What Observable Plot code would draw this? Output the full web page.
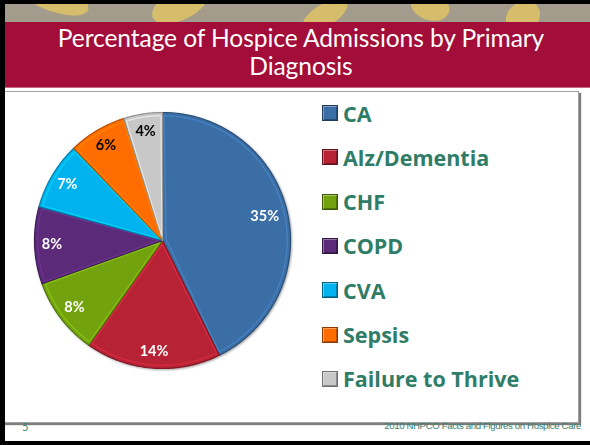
<!DOCTYPE html>
<html><head><meta charset="utf-8">
<script src="https://cdn.jsdelivr.net/npm/d3@7"></script>
<script src="https://cdn.jsdelivr.net/npm/@observablehq/plot@0.6"></script>
<style>
html,body{margin:0;padding:0;background:#fff}
#slide{position:relative;width:590px;height:445px;background:#fff;overflow:hidden;font-family:Lato,"Open Sans",sans-serif}
#deco{position:absolute;left:0;top:0;width:590px;height:22px;background:#A39B8C;overflow:hidden}
#deco .leaf{position:absolute;background:#D5BD6C;border-radius:50%}
#band{position:absolute;left:0;top:22px;width:590px;height:65px;background:#A30D39;border-bottom:1px solid #C96A80;color:#fff;text-align:center}
#band .t{font-size:24.6px;line-height:28px;letter-spacing:-0.1px;padding-left:12px}
#box{position:absolute;left:3px;top:91px;width:574px;height:330px;border:1px solid #A0A0A0;box-shadow:2px 2px 1px #7E7E7E;background:#fff}
#pie{position:absolute;left:22px;top:100px}
#legend{position:absolute;left:0;top:0}
.row{position:absolute;left:322px;height:28px;display:flex;align-items:center}
.sw{width:14px;height:14px;border:1px solid rgba(0,0,0,0.45);margin-right:5px;box-shadow:inset 1px 1px 0 rgba(255,255,255,0.35),inset -1px -1px 0 rgba(0,0,0,0.3)}
.lt{font-family:"Open Sans",sans-serif;font-weight:bold;font-size:21.5px;color:#2F7C67;white-space:nowrap}
#pg{position:absolute;left:22px;top:420px;font-size:11px;color:#3E8A76}
#src{position:absolute;right:9px;top:420px;font-family:"Liberation Sans",Arial,sans-serif;font-size:9.6px;color:#3B8070;letter-spacing:-0.35px}
.bk{position:absolute;background:#000}
</style></head><body>
<div id="slide">
  <div id="deco">
    <div class="leaf" style="left:20px;top:-14px;width:70px;height:26px;transform:rotate(18deg)"></div>
    <div class="leaf" style="left:150px;top:-10px;width:60px;height:30px;transform:rotate(-25deg)"></div>
    <div class="leaf" style="left:300px;top:4px;width:50px;height:22px;transform:rotate(-30deg)"></div>
    <div class="leaf" style="left:410px;top:-8px;width:40px;height:28px;transform:rotate(20deg)"></div>
    <div class="leaf" style="left:505px;top:2px;width:36px;height:30px;transform:rotate(-35deg)"></div>
  </div>
  <div id="band">
    <div class="t" style="margin-top:2px">Percentage of Hospice Admissions by Primary</div>
    <div class="t">Diagnosis</div>
  </div>
  <div id="box"></div>
  <div id="pie"></div>
  <div id="legend"></div>
  <div id="pg">5</div>
  <div id="src">2010 NHPCO Facts and Figures on Hospice Care</div>
  <div class="bk" style="left:0;top:0;width:590px;height:4px"></div>
  <div class="bk" style="left:0;top:0;width:5px;height:445px"></div>
  <div class="bk" style="left:0;top:441px;width:590px;height:4px"></div>
</div>
<script>
// ---- data ----
const categories = ["CA", "Alz/Dementia", "CHF", "COPD", "CVA", "Sepsis", "Failure to Thrive"];
const values = [35, 14, 8, 8, 7, 6, 4];
const labels = ["35%", "14%", "8%", "8%", "7%", "6%", "4%"];
const colors = ["#3B6EA5", "#B72335", "#72A30E", "#5B2A79", "#00B2EE", "#FF6D00", "#C8C8C8"];
const labelColors = ["#fff", "#fff", "#fff", "#fff", "#fff", "#000", "#000"];

// ---- build slices from the pie layout ----
const arcs = d3.pie().sort(null).startAngle(0).endAngle(2 * Math.PI)(values);
function slicePoints(a, r, inset, shift) {
  const mid = (a.startAngle + a.endAngle) / 2;
  const cx = Math.sin(mid) * shift, cy = Math.cos(mid) * shift;
  const s = a.startAngle + inset, e = a.endAngle - inset;
  const n = Math.max(4, Math.ceil((e - s) / 0.01));
  const pts = [{x: cx, y: cy}];
  for (let k = 0; k <= n; k++) {
    const t = s + (e - s) * k / n;
    pts.push({x: Math.sin(t) * r, y: Math.cos(t) * r});
  }
  pts.push({x: cx, y: cy});
  return pts;
}
const marks = [];
arcs.forEach((a, i) => {
  const c = d3.color(colors[i]);
  marks.push(Plot.line(slicePoints(a, 1, 0, 0), {x: "x", y: "y", fill: colors[i], stroke: c.darker(0.9).formatHex(), strokeWidth: 1.2, strokeLinejoin: "round"}));
  marks.push(Plot.line(slicePoints(a, 0.975, 0.012, 0.03), {x: "x", y: "y", fill: "none", stroke: c.brighter(0.8).formatHex(), strokeOpacity: 0.55, strokeWidth: 1.3, strokeLinejoin: "round"}));
});
const labelData = arcs.map((a, i) => {
  const mid = (a.startAngle + a.endAngle) / 2;
  const r = i === 0 ? 0.82 : 0.865;
  return {x: Math.sin(mid) * r, y: Math.cos(mid) * r, text: labels[i], color: labelColors[i]};
});
marks.push(Plot.text(labelData, {x: "x", y: "y", text: "text", fill: "color", fontSize: 14.5, fontWeight: "bold", fontFamily: "Lato, sans-serif"}));

const svg = Plot.plot({
  width: 280, height: 280,
  margin: 12,
  x: {domain: [-1, 1], axis: null},
  y: {domain: [-1, 1], axis: null},
  style: {background: "transparent", overflow: "visible"},
  marks
});
svg.style.filter = "drop-shadow(1px 1px 1px rgba(0,0,0,0.35))";
document.getElementById("pie").appendChild(svg);

// ---- legend ----
const leg = document.getElementById("legend");
categories.forEach((cat, i) => {
  const row = document.createElement("div");
  row.className = "row";
  row.style.top = (113 + i * 44.3 - 14) + "px";
  const sw = document.createElement("div");
  sw.className = "sw";
  sw.style.background = colors[i];
  const t = document.createElement("span");
  t.className = "lt";
  t.textContent = cat;
  row.appendChild(sw); row.appendChild(t);
  leg.appendChild(row);
});
</script>
</body></html>
